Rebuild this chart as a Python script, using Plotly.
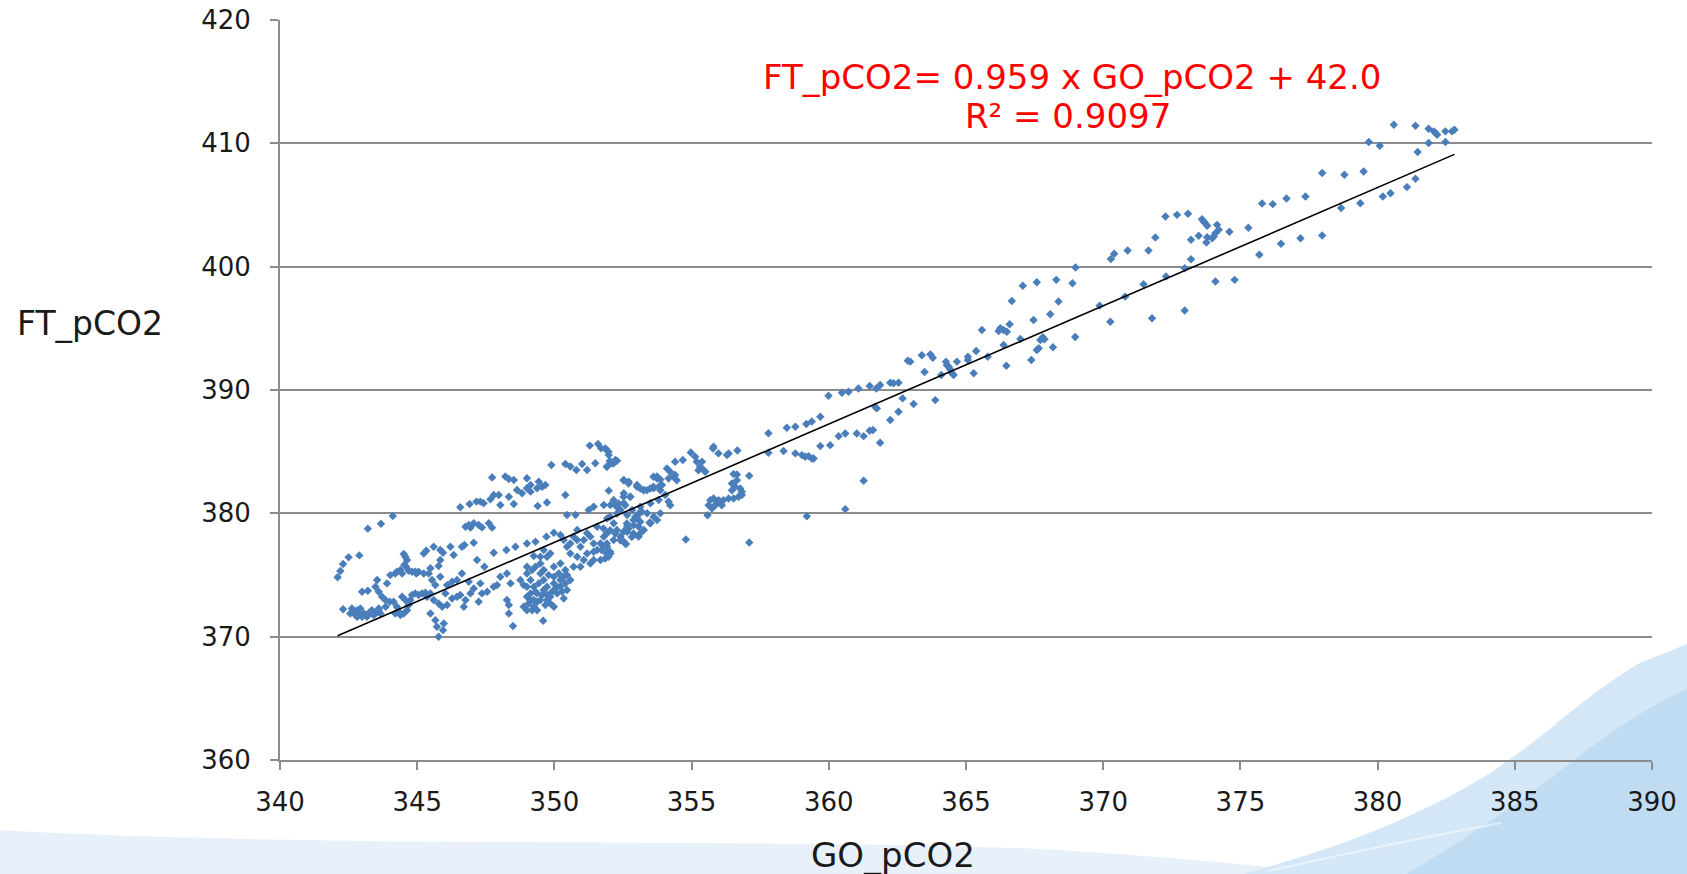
import plotly.graph_objects as go

# ---------------- data (GO_pCO2, FT_pCO2) ----------------
cluster_low_left = [
    (342.10, 374.81), (342.20, 375.32), (342.30, 375.89), (342.50, 376.43), (342.89, 376.59),
    (343.20, 378.76), (343.68, 379.16), (344.11, 379.78),
    (342.30, 372.23), (342.56, 371.88), (342.69, 372.02), (342.75, 371.75), (342.81, 371.61),
    (342.87, 371.88), (342.93, 371.75), (342.99, 371.61), (343.05, 371.88), (343.11, 371.75),
    (343.17, 371.61), (343.23, 371.88), (343.29, 372.02), (343.35, 372.15), (343.41, 371.75),
    (343.48, 371.88), (343.54, 372.02), (343.60, 372.15), (343.66, 371.88), (342.81, 372.15),
    (342.93, 372.29), (342.62, 372.29),
    (342.99, 373.64), (343.20, 373.72), (343.54, 374.59), (343.48, 374.05), (343.60, 373.64),
    (343.90, 374.32), (344.02, 374.99), (344.20, 375.13), (344.26, 375.27), (344.39, 375.40),
    (344.45, 375.13), (344.51, 376.70), (344.57, 376.48), (344.63, 376.21), (344.53, 375.81),
    (344.60, 375.67), (344.69, 375.35), (344.81, 375.27), (344.97, 375.13), (345.05, 375.27),
    (343.72, 373.24), (343.84, 372.97), (344.00, 372.83), (343.85, 372.42), (343.60, 372.29),
]

cluster_low_mid = [
    (344.14, 372.83), (344.26, 372.42), (344.33, 372.02), (344.39, 371.75), (344.51, 371.88),
    (344.63, 372.15), (344.69, 372.56), (344.57, 372.97), (344.45, 373.24), (344.20, 371.88),
    (344.75, 372.97), (344.81, 373.37), (344.93, 373.51), (345.05, 373.37), (345.18, 373.51),
    (345.30, 373.56), (345.36, 373.24), (345.48, 373.51),
    (345.48, 371.88), (345.66, 371.34), (345.72, 370.80), (345.97, 371.07), (345.94, 370.53),
    (345.78, 369.99),
    (345.60, 372.97), (345.78, 372.69), (345.91, 372.42), (346.09, 372.56),
]

cluster_upper_band = [
    (351.29, 385.49), (351.59, 385.63), (351.70, 385.28), (351.88, 385.19), (351.98, 384.73),
    (352.02, 384.25), (352.28, 384.27), (352.16, 384.06), (351.92, 383.79),
    (349.89, 383.92), (350.40, 384.00), (350.58, 383.79), (350.80, 383.52), (351.01, 384.00),
    (351.19, 383.52), (351.49, 384.06),
    (347.73, 382.90), (348.21, 382.98), (348.34, 382.79), (348.52, 382.71), (349.00, 382.84),
    (349.13, 382.30), (349.43, 382.57), (349.55, 382.16), (349.67, 382.30),
    (348.64, 381.89), (348.82, 381.62), (349.00, 382.03), (349.13, 381.76), (349.37, 382.03),
    (349.73, 380.87), (349.39, 380.60),
    (346.57, 380.49), (346.91, 380.76), (347.16, 380.95), (347.30, 380.95), (347.42, 380.81),
    (347.67, 381.14), (347.79, 381.49), (347.97, 381.49), (348.03, 380.68), (348.34, 381.35),
    (348.52, 380.76), (350.40, 381.49),
    (346.76, 378.92), (346.88, 379.05), (347.06, 379.19), (347.24, 379.05), (347.36, 378.86),
    (347.61, 379.19), (347.73, 378.84), (346.94, 378.84),
]

cluster_middle = [
    (345.24, 376.75), (345.33, 376.97), (345.60, 377.29), (345.84, 377.02), (345.94, 376.81),
    (345.84, 376.21), (345.78, 375.73), (346.21, 377.29), (346.33, 376.62), (346.63, 377.29),
    (346.72, 377.43), (347.06, 377.62), (347.18, 376.21), (347.45, 375.67), (347.79, 376.81),
    (348.25, 377.02), (348.58, 377.29), (349.00, 377.56), (349.25, 376.54), (349.31, 377.70),
    (349.71, 378.11), (349.98, 378.43),
    (345.42, 375.13), (345.54, 374.59), (345.66, 374.18), (345.84, 374.86), (344.93, 375.27),
    (345.24, 375.13), (345.48, 375.54),
    (346.03, 373.51), (346.27, 373.10), (346.45, 373.24), (346.57, 373.37), (346.70, 372.42),
    (346.76, 372.97), (346.94, 373.51), (347.06, 373.91), (347.24, 372.83), (347.36, 373.51),
    (347.55, 373.64), (347.79, 374.05), (347.91, 374.18), (348.03, 374.86), (348.27, 375.13),
    (348.40, 374.32), (348.34, 372.56), (348.27, 372.97), (348.49, 370.86), (348.34, 371.88),
    (347.30, 374.32), (346.88, 374.45), (346.63, 375.13), (346.45, 374.59), (346.27, 374.45),
    (346.09, 374.18), (349.59, 371.29), (349.98, 372.42),
]

cluster_dense = [
    (348.76, 374.59), (348.88, 374.18), (349.00, 374.05), (349.00, 373.24), (349.13, 372.97),
    (349.25, 372.42), (349.37, 372.15), (349.00, 375.13), (349.19, 375.40), (349.31, 375.67),
    (349.49, 375.13), (349.61, 374.59), (349.73, 374.05), (349.85, 373.51), (349.98, 373.78),
    (350.10, 374.05), (350.22, 374.59), (350.34, 374.86), (350.40, 375.40), (350.46, 374.99),
    (349.61, 373.78), (349.73, 372.97), (349.85, 373.24), (349.49, 372.97), (349.37, 373.51),
    (349.25, 374.05), (349.13, 374.59), (349.00, 375.67), (349.13, 373.51), (349.25, 372.97),
    (349.06, 372.69), (349.19, 372.15), (349.37, 372.83), (349.55, 373.37), (349.73, 373.37),
    (350.10, 373.51), (350.28, 373.64), (350.40, 374.32), (350.58, 374.59), (350.16, 375.13),
    (349.98, 374.86), (349.79, 374.99), (349.61, 375.40), (349.43, 374.32), (349.31, 373.64),
    (349.98, 374.32), (350.22, 374.05), (350.46, 373.78), (350.34, 373.10), (349.85, 372.69),
    (349.67, 372.56), (348.88, 372.42), (349.00, 372.15), (349.49, 375.94), (349.85, 376.75),
    (349.73, 376.48), (349.61, 377.02), (349.49, 376.48), (350.22, 375.94), (349.98, 375.67),
]

cluster_rise = [
    (350.22, 378.24), (350.34, 377.84), (350.46, 377.29), (350.58, 377.56), (350.70, 378.11),
    (350.83, 377.84), (350.95, 377.29), (351.07, 377.84), (351.19, 378.38), (351.31, 378.11),
    (351.43, 377.56), (351.56, 377.02), (351.68, 377.56), (351.80, 378.11), (351.92, 377.29),
    (352.04, 376.75), (351.43, 376.21), (351.31, 375.94), (351.07, 376.21), (350.83, 376.48),
    (350.58, 376.75), (350.95, 375.67), (351.19, 376.75), (351.68, 376.21), (352.16, 377.84),
    (352.41, 378.11), (352.65, 378.51), (352.89, 378.24), (353.13, 378.38), (353.26, 378.65),
    (353.50, 379.19), (353.62, 379.73), (353.74, 379.46), (353.86, 380.00), (353.38, 380.00),
    (353.01, 379.73), (352.65, 379.86), (352.41, 380.27), (352.16, 381.08), (352.53, 381.62),
    (352.77, 381.35), (352.53, 382.71), (352.71, 382.57), (353.01, 382.30), (353.26, 381.89),
    (353.62, 382.03), (353.74, 382.98), (353.80, 381.08), (353.50, 380.81), (353.13, 380.54),
    (352.83, 380.27), (352.53, 380.81), (352.04, 380.68), (351.80, 380.68), (351.43, 380.54),
    (351.25, 380.27), (350.77, 379.86), (350.46, 379.86), (352.61, 377.51), (352.47, 377.84),
    (353.47, 379.24), (352.65, 378.92), (352.89, 379.05), (353.07, 378.11), (351.98, 381.84),
    (350.83, 378.65), (351.56, 378.92), (352.16, 379.19), (351.92, 379.59), (352.28, 378.65),
    (350.70, 375.67), (351.43, 376.89),
]

cluster_hook = [
    (354.79, 377.88), (353.49, 379.26), (357.10, 377.63), (357.10, 383.05),
    (354.40, 384.18), (354.68, 384.32), (354.97, 384.94), (355.13, 384.59), (355.19, 384.18),
    (355.38, 384.18), (355.31, 383.78), (355.25, 383.50), (355.44, 383.50), (355.50, 383.37),
    (354.10, 383.64), (354.22, 383.37), (354.34, 382.96), (354.40, 383.10), (354.46, 382.69),
    (354.16, 382.83), (353.61, 382.96), (353.74, 382.83), (353.86, 382.75),
    (353.01, 382.15), (353.13, 382.02), (353.25, 381.88), (353.37, 381.88), (353.49, 382.02),
    (353.61, 382.15), (353.80, 382.15), (353.86, 381.88), (353.92, 382.29), (354.04, 381.48),
    (354.22, 380.66), (354.16, 380.94),
    (352.52, 382.69), (352.70, 382.42), (352.76, 381.34), (352.52, 381.34), (352.58, 380.66),
    (352.34, 380.80), (352.22, 380.66), (352.28, 380.53),
    (353.19, 380.12), (353.07, 379.99), (352.95, 379.72), (352.88, 379.45), (353.01, 379.58),
    (353.13, 379.31), (353.07, 378.91), (352.88, 378.36), (352.82, 378.09), (352.70, 378.77),
    (352.64, 379.18), (352.52, 378.50), (352.40, 377.82), (352.58, 377.55), (352.22, 378.36),
    (352.03, 378.63), (351.79, 378.77), (351.91, 378.36),
    (351.91, 377.55), (351.79, 377.28), (351.91, 376.74), (352.03, 376.88), (351.85, 376.34),
    (351.97, 376.47), (351.73, 377.01),
    (351.85, 385.26), (351.97, 384.99), (351.91, 383.78), (352.10, 384.05), (352.22, 384.32),
    (352.03, 379.72), (352.28, 379.99),
    (356.67, 385.10), (356.35, 384.86), (356.29, 384.72), (355.98, 384.86), (355.80, 385.40),
    (355.78, 385.26), (356.53, 383.18), (356.65, 383.15),
    (356.47, 382.42), (356.59, 382.15), (356.77, 382.02), (356.83, 381.75), (356.71, 381.34),
    (356.53, 381.21), (356.35, 381.21), (356.16, 381.07), (355.98, 381.07), (355.80, 381.21),
    (355.68, 381.07), (355.62, 380.66), (355.74, 380.39), (355.58, 379.85), (355.92, 380.80),
    (356.10, 380.66), (356.65, 382.69), (356.47, 381.88), (356.83, 381.48), (356.04, 380.94),
    (355.86, 380.66),
]

cluster_360s = [
    (357.80, 386.50), (357.80, 384.91), (358.35, 385.05), (358.47, 386.94), (358.78, 387.02),
    (358.78, 384.86), (359.02, 384.72), (359.14, 384.59), (359.26, 384.64), (359.38, 384.45),
    (359.45, 384.45), (359.18, 387.24), (359.38, 387.45), (359.69, 387.83), (359.69, 385.45),
    (360.05, 385.53), (359.99, 389.54), (360.48, 389.78), (360.72, 389.86), (361.08, 390.13),
    (361.49, 390.32), (361.73, 390.13), (361.87, 390.40), (362.24, 390.59), (362.36, 390.54),
    (362.54, 390.59), (361.69, 388.65), (361.75, 388.51), (362.24, 387.56), (362.54, 388.24),
    (361.87, 385.72), (361.49, 386.70), (361.61, 386.75), (361.27, 386.26), (361.02, 386.48),
    (360.60, 386.48), (360.36, 386.26), (359.20, 379.77), (360.60, 380.34), (361.27, 382.64),
]

cluster_370s = [
    (362.69, 389.32), (363.09, 388.86), (362.88, 392.38), (362.97, 392.30), (363.39, 392.81),
    (363.70, 392.89), (363.79, 392.62), (363.49, 391.46), (363.88, 389.18), (364.10, 391.21),
    (364.27, 392.30), (364.30, 392.03), (364.37, 391.89), (364.43, 391.67), (364.55, 391.21),
    (364.49, 391.35), (364.67, 392.30), (365.07, 392.70), (365.07, 392.43), (365.28, 391.35),
    (365.37, 393.16), (365.79, 392.70), (365.58, 394.87), (366.19, 394.79), (366.25, 395.00),
    (366.37, 394.87), (366.49, 394.73), (366.59, 395.33), (366.37, 393.65), (366.47, 391.97),
    (366.98, 394.14), (366.67, 397.22), (367.07, 398.46), (367.58, 398.74), (368.29, 398.93),
    (368.88, 398.65), (368.99, 399.93), (367.38, 392.43), (367.46, 395.68), (367.58, 393.24),
    (367.65, 393.38), (367.71, 394.05), (367.80, 394.27), (367.86, 394.11), (368.17, 393.46),
    (368.07, 396.14), (368.37, 397.17), (368.98, 394.30), (369.87, 396.84), (370.26, 395.54),
    (370.80, 397.57), (371.47, 398.57), (371.78, 395.81), (372.29, 399.20), (372.97, 396.44),
    (372.97, 399.87), (373.20, 400.60), (370.28, 400.63), (370.40, 401.04), (370.89, 401.31),
    (371.65, 401.31),
]

cluster_380s = [
    (380.59, 411.51), (381.38, 411.43), (381.86, 411.19), (382.05, 410.97), (382.11, 410.83),
    (382.17, 410.70), (382.47, 410.97), (382.71, 410.97), (382.80, 411.10), (379.68, 410.10),
    (380.08, 409.81), (381.86, 410.02), (382.47, 410.10), (381.46, 409.29), (381.38, 407.13),
    (381.07, 406.45), (380.47, 405.96), (380.19, 405.69), (379.49, 407.72), (378.79, 407.45),
    (377.98, 407.59), (379.37, 405.15), (378.67, 404.75), (377.37, 405.69), (376.68, 405.53),
    (376.18, 405.07), (375.79, 405.13), (377.98, 402.53), (377.19, 402.31), (376.48, 401.85),
    (375.69, 400.96), (375.29, 403.15), (374.60, 402.83), (374.15, 403.39), (374.21, 402.99),
    (374.09, 402.72), (374.03, 402.45), (373.97, 402.31), (373.79, 402.39), (373.76, 401.96),
    (373.48, 402.50), (373.20, 402.18), (371.90, 402.37), (373.60, 403.85), (373.66, 403.66),
    (373.72, 403.53), (373.79, 403.31), (373.09, 404.29), (372.69, 404.20), (372.27, 404.07),
    (374.09, 398.80), (374.79, 398.93),
]

clusters = [cluster_low_left, cluster_low_mid, cluster_upper_band, cluster_middle,
            cluster_dense, cluster_rise, cluster_hook, cluster_360s, cluster_370s, cluster_380s]

go_pco2 = [p[0] for c in clusters for p in c]
ft_pco2 = [p[1] for c in clusters for p in c]

# trend line coefficients as printed on the chart
trend_slope = 0.959
trend_intercept = 42.0
equation_text = "FT_pCO2= 0.959 x GO_pCO2 + 42.0"
r2_text = "R² = 0.9097"

x_ticks = [340, 345, 350, 355, 360, 365, 370, 375, 380, 385, 390]
y_ticks = [360, 370, 380, 390, 400, 410, 420]
x_title = "GO_pCO2"
y_title = "FT_pCO2"

# ---------------- figure ----------------
FONT = "DejaVu Sans"
GRID = "#8c8c8c"

fig = go.Figure()

fig.add_trace(go.Scatter(
    x=go_pco2, y=ft_pco2, mode="markers",
    marker=dict(symbol="diamond", size=6.5, color="#4a7ebb", line=dict(width=0)),
    hoverinfo="x+y", showlegend=False,
))

x0, x1 = min(go_pco2), max(go_pco2)
fig.add_trace(go.Scatter(
    x=[x0, x1], y=[trend_slope * x0 + trend_intercept, trend_slope * x1 + trend_intercept],
    mode="lines", line=dict(color="black", width=1.6), hoverinfo="skip", showlegend=False,
))

# decorative slide background (light blue swooshes)
shapes = [
    dict(type="path", xref="paper", yref="paper", layer="below",
         path="M -0.205,-0.155 L -0.205,-0.095 C 0.05,-0.120 0.35,-0.105 0.55,-0.120 "
              "C 0.65,-0.130 0.72,-0.145 0.78,-0.155 Z",
         fillcolor="#e6f0fa", line=dict(width=0), opacity=0.9),
    dict(type="path", xref="paper", yref="paper", layer="below",
         path="M 0.70,-0.155 C 0.78,-0.115 0.83,-0.075 0.88,-0.020 "
              "C 0.92,0.030 0.95,0.085 0.99,0.130 L 1.03,0.160 L 1.03,-0.155 Z",
         fillcolor="#d2e6f6", line=dict(width=0), opacity=0.95),
    dict(type="path", xref="paper", yref="paper", layer="below",
         path="M 0.82,-0.155 C 0.87,-0.100 0.91,-0.050 0.95,0.010 "
              "C 0.98,0.050 1.00,0.075 1.03,0.100 L 1.03,-0.155 Z",
         fillcolor="#bcd9f1", line=dict(width=0), opacity=0.85),
    dict(type="path", xref="paper", yref="paper", layer="below",
         path="M 0.82,-0.075 C 0.86,-0.045 0.89,-0.010 0.93,0.050",
         line=dict(color="white", width=2.5), opacity=0.6),
    dict(type="path", xref="paper", yref="paper", layer="below",
         path="M 0.72,-0.150 C 0.78,-0.125 0.83,-0.105 0.89,-0.085",
         line=dict(color="white", width=2), opacity=0.5),
]

annotations = [
    dict(text=y_title, xref="paper", yref="paper", x=-0.1385, y=0.5905,
         xanchor="center", yanchor="middle", showarrow=False,
         font=dict(family=FONT, size=33, color="#1a1a1a")),
    dict(text=x_title, xref="paper", yref="paper", x=0.4468, y=-0.128,
         xanchor="center", yanchor="middle", showarrow=False,
         font=dict(family=FONT, size=34, color="#1a1a1a")),
    dict(text=equation_text, xref="paper", yref="paper",
         x=0.577, y=0.923, xanchor="center", yanchor="middle",
         showarrow=False, font=dict(family=FONT, size=34, color="#ff0000")),
    dict(text=r2_text, xref="paper", yref="paper",
         x=0.5742, y=0.870, xanchor="center", yanchor="middle",
         showarrow=False, font=dict(family=FONT, size=34, color="#ff0000")),
]

fig.update_layout(
    width=1687, height=874,
    margin=dict(l=280, r=35, t=20, b=114, autoexpand=False),
    paper_bgcolor="white", plot_bgcolor="rgba(0,0,0,0)",
    showlegend=False,
    font=dict(family=FONT, color="#1a1a1a"),
    shapes=shapes, annotations=annotations,
    xaxis=dict(range=[340, 390], tickvals=x_ticks, showgrid=False, zeroline=False,
               automargin=False,
               showline=True, linecolor=GRID, linewidth=2,
               ticks="outside", ticklen=8, tickwidth=2, tickcolor=GRID,
               ticklabelstandoff=10,
               tickfont=dict(family=FONT, size=26, color="#1a1a1a")),
    yaxis=dict(range=[360, 420], tickvals=y_ticks, showgrid=True, gridcolor=GRID,
               gridwidth=1.6, zeroline=False, automargin=False,
               showline=True, linecolor=GRID, linewidth=2,
               ticks="outside", ticklen=8, tickwidth=2, tickcolor=GRID,
               ticklabelstandoff=14,
               tickfont=dict(family=FONT, size=26, color="#1a1a1a")),
)

fig.write_html(
    "out.html",
    config={"displayModeBar": False},
    post_script="document.body.style.margin='0';document.body.style.overflow='hidden';",
)
